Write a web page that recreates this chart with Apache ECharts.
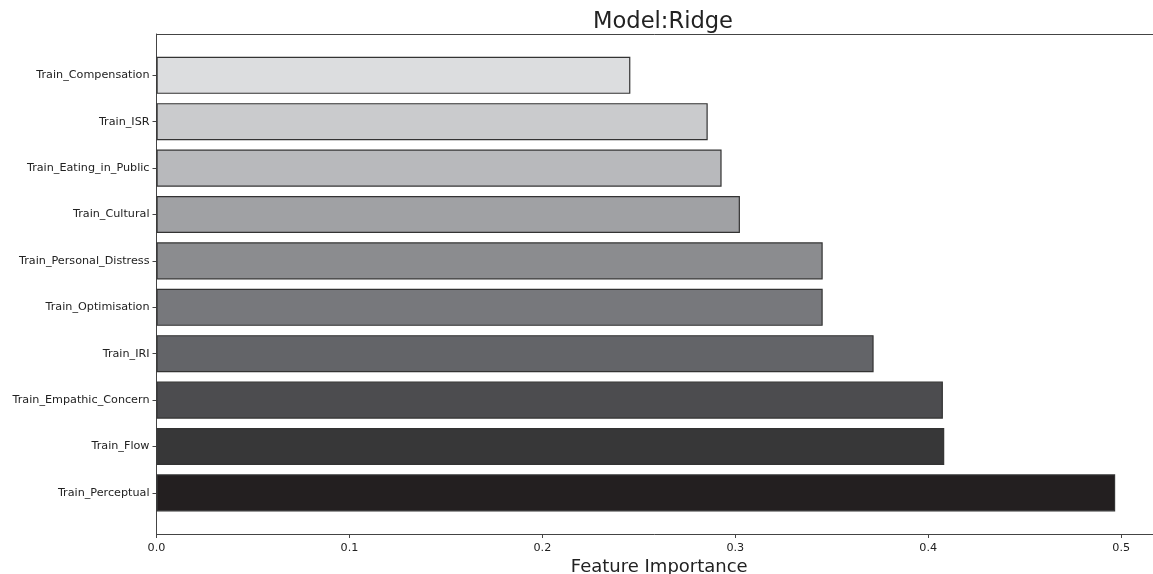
<!DOCTYPE html>
<html>
<head>
<meta charset="utf-8">
<script src="https://cdn.jsdelivr.net/npm/echarts@6/dist/echarts.min.js"></script>
<style>
html,body{margin:0;padding:0;background:#fff;}
#chart{width:1153px;height:574px;}
</style>
</head>
<body>
<div id="chart"></div>
<script>
// Data (top to bottom as displayed)
var categories = [
  'Train_Compensation', 'Train_ISR', 'Train_Eating_in_Public', 'Train_Cultural',
  'Train_Personal_Distress', 'Train_Optimisation', 'Train_IRI',
  'Train_Empathic_Concern', 'Train_Flow', 'Train_Perceptual'
];
var importance = [0.2456, 0.2857, 0.2929, 0.3024, 0.3453, 0.3453, 0.3717, 0.4076, 0.4083, 0.4969];
var barColors = ['#dcdddf', '#cacbcd', '#b8b9bc', '#a0a1a4', '#8b8c8f', '#77787c', '#636468', '#4c4c4f', '#373738', '#231f20'];
var xTicks = [0.0, 0.1, 0.2, 0.3, 0.4, 0.5];
var titleText = 'Model:Ridge';
var xName = 'Feature Importance';

var FONT = 'DejaVu Sans';
var XMAX = 0.5165;

var chart = echarts.init(document.getElementById('chart'), null, {renderer: 'canvas'});
var option = {
  backgroundColor: '#ffffff',
  animation: false,
  title: {
    text: titleText,
    left: 658, top: 6, textAlign: 'center',
    textStyle: {fontFamily: FONT, fontSize: 22.6, fontWeight: 'normal', color: '#222'}
  },
  grid: [
    {left: 156.5, right: 0, top: 34, bottom: 40, containLabel: false, outerBoundsMode: 'none'},
    {left: 156.5, right: 0, top: 52.1, bottom: 57.9, containLabel: false, outerBoundsMode: 'none'}
  ],
  xAxis: [
    {
      type: 'value', gridIndex: 0, min: 0, max: XMAX, interval: 0.1, position: 'bottom',
      name: xName, nameLocation: 'middle', nameGap: 22,
      nameTextStyle: {fontFamily: FONT, fontSize: 18, color: '#222', padding: [0, 0, 0, 9]},
      axisLine: {show: true, lineStyle: {color: '#444', width: 1}},
      axisTick: {show: true, length: 4, lineStyle: {color: '#444'}},
      axisLabel: {
        fontFamily: FONT, fontSize: 11.2, color: '#222', margin: 8.5,
        formatter: function (v) {
          for (var i = 0; i < xTicks.length; i++) {
            if (Math.abs(xTicks[i] - v) < 1e-9) return xTicks[i].toFixed(1);
          }
          return '';
        },
        showMaxLabel: false
      },
      splitLine: {show: false}
    },
    {
      type: 'value', gridIndex: 0, min: 0, max: XMAX, position: 'top',
      axisLine: {show: true, lineStyle: {color: '#444', width: 1}},
      axisTick: {show: false}, axisLabel: {show: false}, splitLine: {show: false}
    },
    {
      type: 'value', gridIndex: 1, min: 0, max: XMAX, show: false, splitLine: {show: false}
    }
  ],
  yAxis: [
    {
      type: 'value', gridIndex: 0, min: 0, max: 1, position: 'left',
      axisLine: {show: true, lineStyle: {color: '#444', width: 1}},
      axisTick: {show: false}, axisLabel: {show: false}, splitLine: {show: false}
    },
    {
      type: 'category', gridIndex: 1, data: categories, inverse: true,
      axisLine: {show: false},
      axisTick: {show: true, alignWithLabel: true, length: 4, lineStyle: {color: '#444'}},
      axisLabel: {fontFamily: FONT, fontSize: 11.2, color: '#222', margin: 7, padding: [2, 0, 0, 0]},
      splitLine: {show: false}
    }
  ],
  series: [{
    type: 'bar',
    xAxisIndex: 2, yAxisIndex: 1,
    barCategoryGap: '20%',
    data: importance.map(function (v, i) {
      return {value: v, itemStyle: {color: barColors[i]}};
    }),
    itemStyle: {borderColor: '#333', borderWidth: 1.2}
  }]
};
chart.setOption(option);
</script>
</body>
</html>
